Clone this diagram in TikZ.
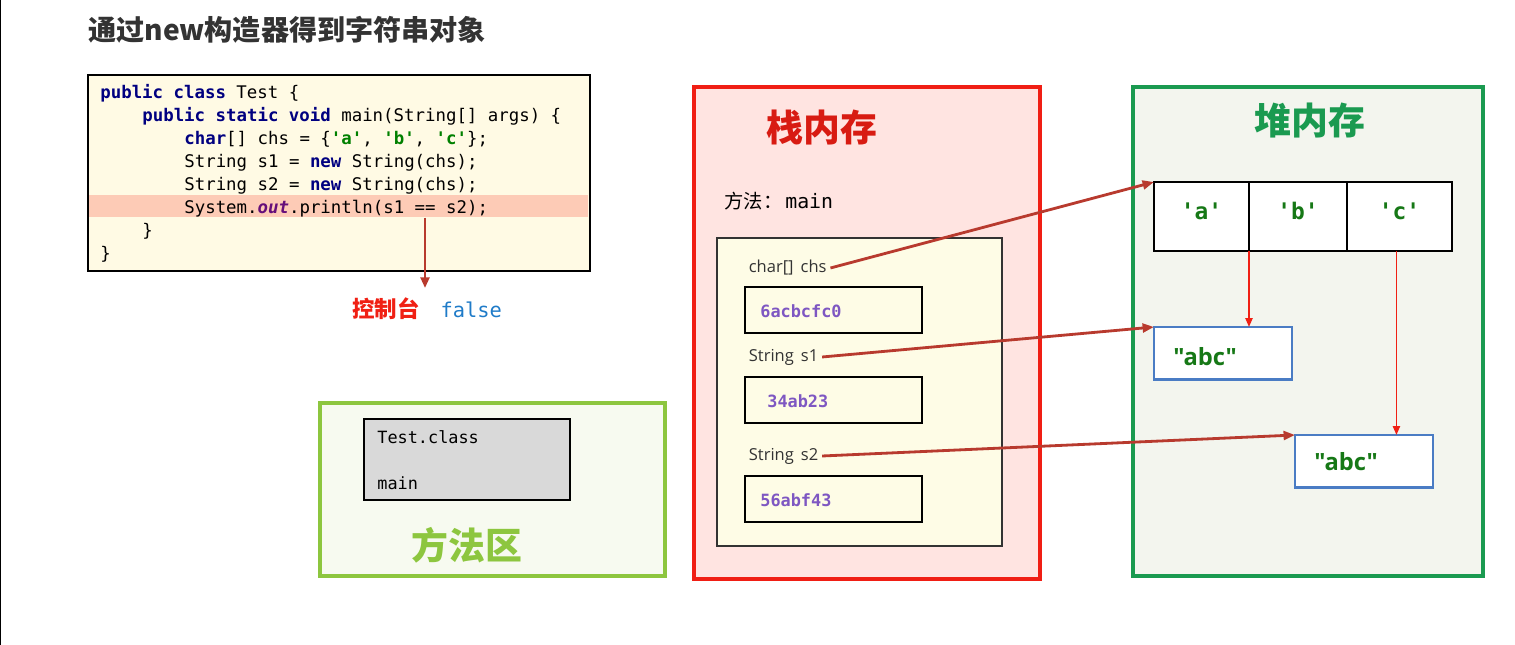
\documentclass[tikz,border=0pt]{standalone}
\usepackage{fontspec}
\setsansfont{Open Sans}
\setmonofont{DejaVu Sans Mono}
\newfontfamily\cjk{Noto Sans CJK SC}
\newfontfamily\strfont[Ligatures=TeXOff]{Open Sans}
\definecolor{CodeBg}{RGB}{255, 250, 228}
\definecolor{CodeHl}{RGB}{253, 203, 182}
\definecolor{KeyBlue}{RGB}{0, 0, 128}
\definecolor{LitGreen}{RGB}{0, 128, 0}
\definecolor{OutPurple}{RGB}{102, 14, 122}
\definecolor{RefRed}{RGB}{184, 58, 46}
\definecolor{LinkRed}{RGB}{240, 32, 20}
\definecolor{StackRed}{RGB}{240, 30, 20}
\definecolor{StackFill}{RGB}{255, 228, 225}
\definecolor{HeapGreen}{RGB}{26, 154, 80}
\definecolor{HeapFill}{RGB}{243, 245, 238}
\definecolor{MethGreen}{RGB}{141, 198, 63}
\definecolor{MethFill}{RGB}{247, 250, 240}
\definecolor{FrameFill}{RGB}{254, 252, 230}
\definecolor{HexPurple}{RGB}{126, 87, 194}
\definecolor{FalseBlue}{RGB}{31, 123, 200}
\definecolor{AbcBlue}{RGB}{74, 124, 196}
\definecolor{CharGreen}{RGB}{22, 120, 22}
\definecolor{TitleGray}{RGB}{51, 51, 51}
\usetikzlibrary{arrows.meta, positioning}

\tikzset{
  area/.style={draw, line width=2pt, inner sep=0pt, outer sep=0pt, anchor=north west},
  cellbox/.style={draw=black, line width=1.1pt, fill=white, inner sep=0pt, outer sep=0pt,
    minimum height=1.38cm, text height=0.28cm, text depth=0.16cm,
    font=\ttfamily\bfseries\fontsize{13}{15}\selectfont, text=CharGreen},
  valbox/.style={draw=black, line width=1.1pt, inner sep=0pt, outer sep=0pt, anchor=north west,
    minimum width=3.54cm, minimum height=0.92cm},
  strbox/.style={draw=AbcBlue, line width=1.6pt, fill=white, inner sep=0pt, outer sep=0pt, anchor=north west,
    minimum width=2.76cm, minimum height=1.05cm},
  strval/.style={anchor=west, inner sep=0pt, font=\strfont\bfseries\fontsize{13.5}{15}\selectfont, text=CharGreen},
  codeline/.style={anchor=west, inner sep=0pt, font=\ttfamily\fontsize{9.9}{11}\selectfont},
  varlabel/.style={anchor=west, inner sep=2pt, font=\sffamily\fontsize{9.4}{11}\selectfont, text=TitleGray},
  hexval/.style={anchor=west, inner sep=0pt, font=\ttfamily\bfseries\fontsize{9.6}{11}\selectfont, text=HexPurple},
  bigtitle/.style={font=\cjk\bfseries\fontsize{21}{24}\selectfont},
  ref/.style={RefRed, line width=1.6pt, -{Triangle[length=6.5pt, width=5pt]}},
  link/.style={LinkRed, line width=1pt, -{Triangle[length=5pt, width=4pt]}}
}

\newcommand{\kw}[1]{\textcolor{KeyBlue}{\bfseries #1}}
\newcommand{\lit}[1]{\textcolor{LitGreen}{\bfseries #1}}

\begin{document}
\begin{tikzpicture}[x=0.02cm, y=-0.02cm]
	\useasboundingbox (0,0) rectangle (1515,645);
	\draw[line width=0.8pt] (0.5,0) -- (0.5,645);

	\node[anchor=west, inner sep=0pt, text=TitleGray, font=\cjk\bfseries\fontsize{16}{18}\selectfont] (title) at (88,30) {通过new构造器得到字符串对象};

	% source code
	\node[area, line width=1pt, fill=CodeBg, minimum width=10.04cm, minimum height=3.92cm] (code) at (88,75) {};
	\node[fill=CodeHl, inner sep=0pt, anchor=north west, minimum width=9.98cm, minimum height=0.44cm] (hl) at (89,195) {};
	\node[codeline] (l1) at (100,93.5) {\kw{public class} Test \{};
	\node[codeline] (l2) at (142,116.5) {\kw{public static void} main(String[] args) \{};
	\node[codeline] (l3) at (184,139.5) {\kw{char}[] chs = \{\lit{'a'}, \lit{'b'}, \lit{'c'}\};};
	\node[codeline] (l4) at (184,162.5) {String s1 = \kw{new} String(chs);};
	\node[codeline] (l5) at (184,185.5) {String s2 = \kw{new} String(chs);};
	\node[codeline] (l6) at (184,208.5) {System.\textcolor{OutPurple}{\bfseries\itshape out}.println(s1 == s2);};
	\node[codeline] (l7) at (142,231.5) {\}};
	\node[codeline] (l8) at (100,254.5) {\}};

	\node[inner sep=0pt] (out) at (427,309) {\textcolor{LinkRed}{\cjk\bfseries\fontsize{12.8}{14}\selectfont 控制台}\hspace{0.42cm}\textcolor{FalseBlue}{\ttfamily\fontsize{11.6}{13}\selectfont false}};
	\draw[RefRed, line width=1.4pt, -{Triangle[length=6pt, width=5pt]}] (hl.south -| 425,0) -- (425,288);

	% method area
	\node[area, draw=MethGreen, fill=MethFill, minimum width=6.9cm, minimum height=3.46cm] (meth) at (320,403) {};
	\node[area, line width=1pt, fill=black!15, minimum width=4.12cm, minimum height=1.62cm] (cls) at (364,419) {};
	\node[codeline, font=\ttfamily\fontsize{9.6}{11}\selectfont] (clsname) at (377,437) {Test.class};
	\node[codeline, font=\ttfamily\fontsize{9.6}{11}\selectfont] (clsmain) at (377,483) {main};
	\node[bigtitle, text=MethGreen] (methtitle) at (467,545) {方法区};

	% stack
	\node[area, draw=StackRed, fill=StackFill, minimum width=6.92cm, minimum height=9.84cm] (stack) at (694,87) {};
	\node[bigtitle, text=StackRed!90!black] (stacktitle) at (822,128) {栈内存};
	\node[anchor=west, inner sep=0pt] (frame) at (724,201) {{\cjk\fontsize{11}{12}\selectfont 方法：}\hspace{0.06cm}{\ttfamily\fontsize{11.3}{13}\selectfont main}};
	\node[area, line width=0.8pt, draw=black!80, fill=FrameFill, minimum width=5.7cm, minimum height=6.16cm] (main) at (717,238) {};
	\node[varlabel] (chs) at (745,268) {char[]\, chs};
	\node[valbox] (v1) at (745,287) {};
	\node[hexval] at (760,311) {6acbcfc0};
	\node[varlabel] (s1) at (745,357) {String\, s1};
	\node[valbox] (v2) at (745,377) {};
	\node[hexval] at (767,401) {34ab23};
	\node[varlabel] (s2) at (745,456) {String\, s2};
	\node[valbox] (v3) at (745,476) {};
	\node[hexval] at (760,500) {56abf43};

	% heap
	\node[area, draw=HeapGreen, fill=HeapFill, minimum width=7cm, minimum height=9.78cm] (heap) at (1133,87) {};
	\node[bigtitle, text=HeapGreen] (heaptitle) at (1310,120) {堆内存};
	\node[cellbox, anchor=north west, minimum width=1.9cm] (ca) at (1154,182) {'a'};
	\node[cellbox, right=0pt of ca, minimum width=1.96cm] (cb) {'b'};
	\node[cellbox, right=0pt of cb, minimum width=2.1cm] (cc) {'c'};
	\node[strbox] (abc1) at (1154,327) {};
	\node[strval] at (1173,357) {"abc"};
	\node[strbox] (abc2) at (1295,435) {};
	\node[strval] at (1314,462) {"abc"};

	% references
	\draw[ref] (chs.east) -- (ca.north west);
	\draw[ref] (s1.east) -- (abc1.north west);
	\draw[ref] (s2.east) -- (abc2.north west);
	\draw[link] (ca.south east) -- (ca.south east |- abc1.north);
	\draw[link] ([xshift=-0.06cm]cc.south) -- ([xshift=-0.06cm]cc.south |- abc2.north);
\end{tikzpicture}
\end{document}
